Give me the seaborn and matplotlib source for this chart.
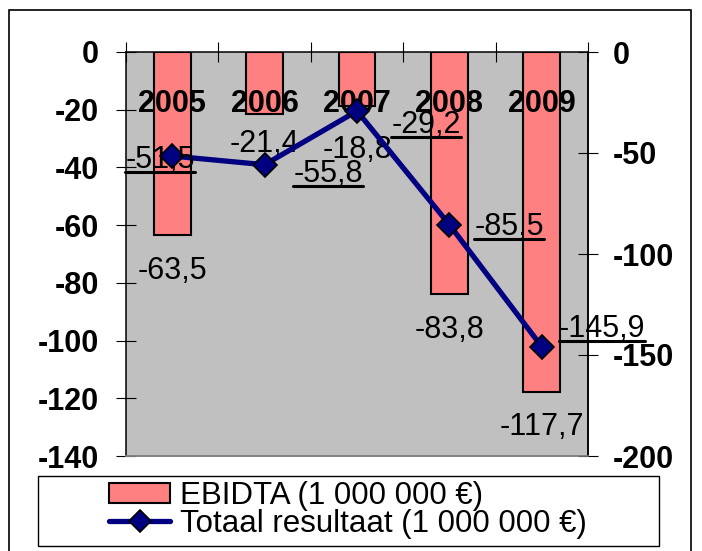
import numpy as np
import pandas as pd
import matplotlib
matplotlib.use("Agg")
import matplotlib.pyplot as plt
import matplotlib.transforms as mtransforms
import seaborn as sns
from matplotlib.patches import Rectangle
from matplotlib.lines import Line2D

# ---- data ----
years = ["2005", "2006", "2007", "2008", "2009"]
ebitda = [-63.5, -21.4, -18.8, -83.8, -117.7]
total = [-51.5, -55.8, -29.2, -85.5, -145.9]
left_ticks = [0, -20, -40, -60, -80, -100, -120, -140]
right_ticks = [0, -50, -100, -150, -200]
ebitda_name = "EBIDTA (1 000 000 €)"
total_name = "Totaal resultaat (1 000 000 €)"

# ---- label placement (points) ----
bar_label_dy = [-31.7, -27.4, -37.4, -31.7, -31.0]
line_label_off = [(-8.8, -8.6), (45.6, -12.2), (49.7, -15.8), (42.9, -7.2), (43.2, 7.2)]

BAR = "#FF8080"
NAVY = "#000080"
PLOT_BG = "#C0C0C0"

sns.set_style("white")
plt.rcParams["font.family"] = ["Liberation Sans", "DejaVu Sans"]
plt.rcParams.update({
    "text.color": "black",
    "axes.labelcolor": "black",
    "xtick.color": "black",
    "ytick.color": "black",
    "axes.edgecolor": "black",
})

def fmt(v):
    return f"{v:.1f}".replace(".", ",")

W, H = 702, 551
fig = plt.figure(figsize=(W / 100, H / 100), dpi=100)
ax = fig.add_axes([126 / W, 1 - 456 / H, (588 - 126) / W, (456 - 52) / H])

df = pd.DataFrame({"year": years, "ebitda": ebitda, "total": total})

sns.barplot(data=df, x="year", y="ebitda", ax=ax, color=BAR, saturation=1,
            width=0.4, edgecolor="black", linewidth=1.5, zorder=2)
ax.set_facecolor(PLOT_BG)
ax.set_ylim(-140, 0)

ax2 = ax.twinx()
sns.pointplot(data=df, x="year", y="total", ax=ax2, color=NAVY, markers="D",
              errorbar=None, zorder=3)
for ln in ax2.lines:
    ln.set_linewidth(3.8)
    ln.set_markersize(12)
    ln.set_markerfacecolor(NAVY)
    ln.set_markeredgecolor("black")
    ln.set_markeredgewidth(1.2)
    ln.set_solid_capstyle("round")
ax2.set_ylim(-200, 0)

n = len(years)
ax.set_xlim(-0.5, n - 0.5)

# category boundary ticks across the top axis line
ax.xaxis.tick_top()
ax.set_xticks(np.arange(n + 1) - 0.5)
ax.set_xticklabels([])
ax.tick_params(axis="x", which="major", direction="inout", length=14.4,
               width=0.8, color="black")
ax.set_xlabel("")
ax2.set_xlabel("")

# year labels just below the zero line
trans = mtransforms.blended_transform_factory(ax.transData, ax.transAxes)
for i, yr in enumerate(years):
    ax.text(i, 1 - (112 - 52) / (456 - 52), yr, transform=trans, ha="center",
            va="baseline", fontsize=22, fontweight="bold", color="black", zorder=5)

# value axes
ax.set_yticks(left_ticks)
ax.set_yticklabels([str(t) for t in left_ticks], fontsize=22, fontweight="bold")
ax.tick_params(axis="y", direction="inout", length=14.4, width=0.8, pad=12.2,
               color="black", labelcolor="black")
ax.set_ylabel("")
ax2.set_yticks(right_ticks)
ax2.set_yticklabels([str(t) for t in right_ticks], fontsize=22, fontweight="bold")
ax2.tick_params(axis="y", direction="inout", length=14.4, width=0.8, pad=10.8,
                color="black", labelcolor="black")
ax2.set_ylabel("")

for a in (ax, ax2):
    for s in a.spines.values():
        s.set_linewidth(1.1)
        s.set_color("black")
    a.spines["bottom"].set_color("#808080")
ax2.spines["left"].set_visible(False)
ax2.spines["top"].set_visible(False)
ax.grid(False)
ax2.grid(False)

# bar value labels
for i, v in enumerate(ebitda):
    ax.annotate(fmt(v), xy=(i, v), xytext=(0, bar_label_dy[i]),
                textcoords="offset points", ha="center", va="baseline",
                fontsize=22, color="black", zorder=6)

# line value labels (underlined)
line_texts = []
for i, v in enumerate(total):
    dx, dy = line_label_off[i]
    t = ax2.annotate(fmt(v), xy=(i, v), xytext=(dx, dy),
                     textcoords="offset points", ha="center", va="baseline",
                     fontsize=22, color="black", zorder=6)
    line_texts.append(t)

# legend with its own frame
handles = [
    Rectangle((0, 0), 1, 1, facecolor=BAR, edgecolor="black", linewidth=1.5),
    Line2D([0], [0], color=NAVY, linewidth=3.8, marker="D", markersize=11,
           markerfacecolor=NAVY, markeredgecolor="black", markeredgewidth=1.2,
           solid_capstyle="round"),
]
leg = fig.legend(handles, [ebitda_name, total_name], loc="center",
                 bbox_to_anchor=(348 / W, 1 - 510 / H), frameon=False,
                 fontsize=22.5, handlelength=1.95, handleheight=0.65,
                 handletextpad=0.3, labelspacing=-0.06, borderpad=0,
                 labelcolor="black")
fig.add_artist(Rectangle((38 / W, 1 - 546 / H), (659 - 38) / W, (546 - 476) / H,
                         transform=fig.transFigure, fill=False,
                         edgecolor="black", linewidth=1.0))

# outer chart frame
fig.add_artist(Rectangle((9 / W, -0.05), (691 - 9) / W, 1 - 10 / H + 0.05,
                         transform=fig.transFigure, fill=False,
                         edgecolor="black", linewidth=1.2))

fig.canvas.draw()
renderer = fig.canvas.get_renderer()
inv = fig.transFigure.inverted()
for t in line_texts:
    bb = t.get_window_extent(renderer)
    y = bb.y0 + 2.5
    (x0, yy), (x1, _) = inv.transform([(bb.x0, y), (bb.x1, y)])
    fig.add_artist(Line2D([x0, x1], [yy, yy], transform=fig.transFigure,
                          color="black", linewidth=2.2, zorder=7))

fig.savefig("out.png", dpi=100)
